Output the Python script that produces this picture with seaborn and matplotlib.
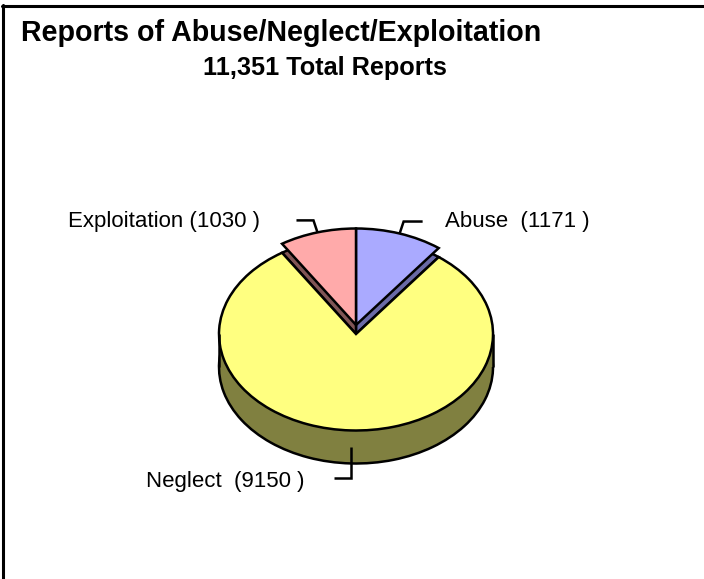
# 3d looking pie of the reports by type
import numpy as np
import matplotlib
matplotlib.use('Agg')
import matplotlib.pyplot as plt
from matplotlib.lines import Line2D
from matplotlib.patches import Rectangle
import seaborn as sns

categories = ['Abuse', 'Neglect', 'Exploitation']
reports = [1171, 9150, 1030]
slice_labels = ['Abuse  (1171 )', 'Neglect  (9150 )', 'Exploitation (1030 )']
top_colors = ['#AAAAFF', '#FFFF80', '#FFAAAA']
side_colors = ['#6A6AA6', '#808040', '#805555']
title = 'Reports of Abuse/Neglect/Exploitation'
subtitle = '11,351 Total Reports'

sns.set_theme(style='white')
plt.rcParams['font.family'] = ['Liberation Sans', 'DejaVu Sans']

W, H = 704, 579
# pie size on screen, the squashed ellipse makes it look tilted
cx, cy, rx, ry = 356, 334, 137, 96.5
depth = 33 / ry
lift = 9 / ry
edge = 1.8

fig = plt.figure(figsize=(W / 100, H / 100), dpi=100, facecolor='white')
ax = fig.add_axes([0, 0, 1, 1])


def draw_layer(colors, center, keep):
    wedges, _ = ax.pie(reports, colors=colors, startangle=90, counterclock=False,
                       center=center, radius=1,
                       wedgeprops={'edgecolor': 'black', 'linewidth': edge})
    for w, cat in zip(wedges, categories):
        w.set_visible(cat in keep)
    return wedges


# the two pulled out slices sit behind the neglect slice
pulled = ['Abuse', 'Exploitation']
draw_layer(side_colors, (0, 0), pulled)
draw_layer(top_colors, (0, lift), pulled)

# side wall of the neglect slice
draw_layer(side_colors, (0, -depth), ['Neglect'])
ax.add_patch(Rectangle((-1, -depth), 2, depth, facecolor=side_colors[1], edgecolor='none'))
ax.vlines([-1, 1], -depth, 0, color='black', lw=edge)
wedges = draw_layer(top_colors, (0, 0), ['Neglect'])

ax.set_aspect('auto')
ax.set_xlim((0 - cx) / rx, (W - cx) / rx)
ax.set_ylim((cy - H) / ry, cy / ry)

# leader lines start on the middle of each slice
mids = dict(zip(categories, np.radians([(w.theta1 + w.theta2) / 2 for w in wedges])))


def leader(cat, base, dx1, dy1, dx2):
    x0 = np.cos(mids[cat])
    y0 = np.sin(mids[cat]) + base
    x1 = x0 + dx1 / rx
    y1 = y0 + dy1 / ry
    ax.plot([x0, x1, x1 + dx2 / rx], [y0, y1, y1], color='black', lw=edge,
            solid_joinstyle='miter', solid_capstyle='butt')


leader('Abuse', lift, 4, 12, 19)
leader('Exploitation', lift, -4, 12, -17)
leader('Neglect', -depth / 2, 0, -31, -17)


def px(x, y):
    return x / W, 1 - y / H


fig.text(*px(445, 222), slice_labels[0], fontsize=16, color='black', ha='left', va='center')
fig.text(*px(260, 222), slice_labels[2], fontsize=16, color='black', ha='right', va='center')
fig.text(*px(304, 481), slice_labels[1], fontsize=16, color='black', ha='right', va='center')
fig.text(*px(21, 33), title, fontsize=20.6, fontweight='bold', color='black', ha='left', va='center')
fig.text(*px(325, 68), subtitle, fontsize=18.2, fontweight='bold', color='black', ha='center', va='center')

# outer frame, only left and top show in the picture
fig.add_artist(Line2D([3 / W, 3 / W], [0, 1 - 5 / H], color='black', lw=2.2))
fig.add_artist(Line2D([2 / W, 1], [1 - 6 / H, 1 - 6 / H], color='black', lw=2.2))

fig.savefig('out.png', dpi=100)
